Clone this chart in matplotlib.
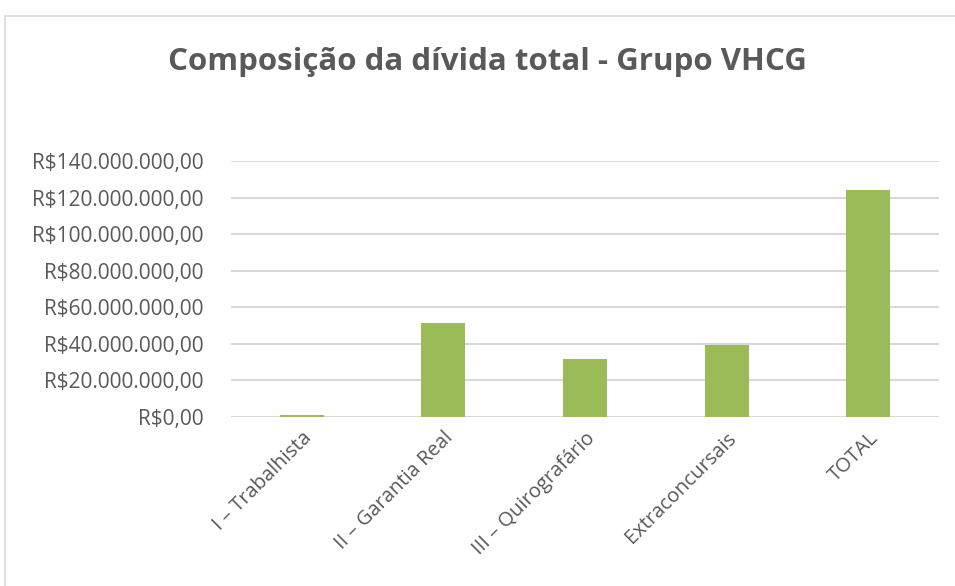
import matplotlib.pyplot as plt
from matplotlib.patches import Rectangle
from matplotlib.ticker import FuncFormatter

# dados
categorias = ['I – Trabalhista', 'II – Garantia Real', 'III – Quirografário',
              'Extraconcursais', 'TOTAL']
valores = [1.2e6, 51.5e6, 31.7e6, 39.5e6, 124.0e6]
yticks = [0, 20e6, 40e6, 60e6, 80e6, 100e6, 120e6, 140e6]

VERDE = '#9BBB59'
CINZA = '#595959'

plt.rcParams['font.family'] = ['Open Sans', 'DejaVu Sans']


def formata_real(v, pos=None):
    s = f'{v:,.2f}'
    s = s.replace(',', 'X').replace('.', ',').replace('X', '.')
    return 'R$' + s


fig = plt.figure(figsize=(9.55, 5.86), dpi=100)
ax = fig.add_axes([231 / 955, 1 - 417 / 586, (939 - 231) / 955, (417 - 161) / 586])

x = range(len(categorias))
ax.bar(x, valores, width=0.31, color=VERDE, zorder=3)

ax.set_ylim(0, 140e6)
ax.set_xlim(-0.5, len(categorias) - 0.5)
ax.set_yticks(yticks)
ax.yaxis.set_major_formatter(FuncFormatter(formata_real))
ax.grid(axis='y', color='#D9D9D9', linewidth=1.5, zorder=0)
for s in ax.spines.values():
    s.set_visible(False)
ax.set_xticks(list(x))
ax.set_xticklabels(categorias, rotation=45, ha='right', va='top',
                   rotation_mode='anchor')
ax.yaxis.set_tick_params(length=0, colors=CINZA, labelsize=15, pad=20)
ax.xaxis.set_tick_params(length=0, colors=CINZA, labelsize=14.5, pad=8)

fig.text(487 / 955, 1 - 62 / 586, 'Composição da dívida total - Grupo VHCG',
         ha='center', va='center', fontsize=22.5, fontweight='bold', color=CINZA)

# borda do gráfico
fig.patches.append(Rectangle((5 / 955, -0.01), 1.0, 1 - 16 / 586 + 0.01,
                             transform=fig.transFigure, fill=False,
                             edgecolor='#D9D9D9', linewidth=1.2))

fig.savefig('out.png', dpi=100)
